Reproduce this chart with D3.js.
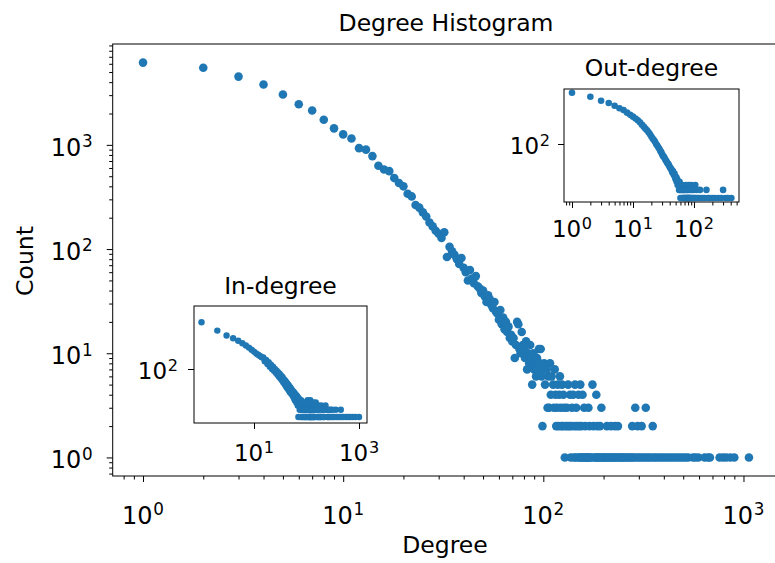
<!DOCTYPE html>
<html>
<head>
<meta charset="utf-8">
<script src="https://cdn.jsdelivr.net/npm/d3@7"></script>
<style>
  body { margin: 0; background: #fff; }
  text { font-family: "DejaVu Sans", sans-serif; fill: #000; }
</style>
</head>
<body>
<div id="chart"></div>
<script>
// ---- data ----
// main histogram: counts for degree 1..100, then sparse tail grouped by count
var mainHeadCount = [6160,5500,4520,3800,3040,2450,2140,1740,1440,1260,
  1150,930,900,780,630,580,560,480,430,400,
  340,320,265,250,225,205,180,165,150,140,
  128,145,84,105,95,88,80,72,82,66,
  60,50,63,52,47,55,44,42,38,40,
  35,31,36,33,29,27,31,25,24,21,
  26,19,22,17,20,16,18,14,15,13,
  14,9,12,20,19,11,10,16,12,11,
  9,13,7,10,8,12,9,5,10,7,
  8,6,9,7,11,8,11,6,2,7];
var mainTailCounts = [8, 7, 6, 5, 4, 3, 2, 1];
var mainTailDegrees = [
  [101,108],
  [104,114],
  [106,110,121],
  [102,112,118,124,133,144,153,176],
  [109,115,120,126,136,141,150,157,184],
  [105,107,113,117,122,127,131,139,146,160,168,195,288,325],
  [116,119,123,125,129,132,135,138,143,147,151,155,162,170,178,186,192,208,218,228,236,278,296,310,352],
  [128,137,142,145,149,152,154,156,158,161,163,165,167,169,172,174,180,182,185,188,190,194,197,200,203,206,210,213,216,220,224,227,231,235,240,244,248,252,256,262,267,272,277,283,290,298,305,313,320,329,337,346,356,365,375,386,397,408,420,432,445,458,472,486,500,515,530,560,575,595,640,665,680,760,790,820,860,900,1065]
];

// in-degree inset
var inHeadCount = [8900,3980,2500,1900,1500,1180,950,780,640,530,
  440,390,350,310,300,210,240,160,190,125,
  150,100,125,85,100,70,85,58,72,48,
  62,40,52,34,45,28,38,24,33,20,
  29,17,25,15,22,13,19,11,17,10,
  15,9,13,8,12,7,11,6,10,5,
  9,5,8,4,8,4,7,3,6,1,
  6,3,5,2,5,3,4,1,5,2,
  4,1,4,2,3,1,4,2,3,1,
  3,2,4,1,3,2,1,3,2,1];
var inTailCounts = [5, 4, 3, 2, 1];
var inTailDegrees = [
  [105,118],
  [102,110,121,135,150],
  [101,104,108,113,116,124,130,140,155,168,190,230],
  [103,106,109,112,117,120,126,133,145,148,152,160,175,200,205,220,240,265,285,310,360,450],
  [107,111,114,115,119,122,125,128,131,137,139,143,158,165,172,180,185,195,210,215,250,260,275,295,320,340,380,420,460,500,560,620,680,750,850,1000]
];

// out-degree inset
var outHeadCount = [7900,5600,4000,3300,2600,2100,1800,1450,1200,1030,
  880,760,640,520,440,370,320,270,230,190,
  160,140,120,100,88,76,66,56,50,42,
  36,34,30,26,24,21,19,18,16,14,
  13,12,11,9,10,8,7,8,6,5,
  6,4,5,3,4,3,2,4,2,1,
  3,2,1,2,3,1,2,1,2,1];
var outTailCounts = [3, 2, 1];
var outTailDegrees = [
  [74,82,90,105],
  [72,76,79,85,93,98,110,125,160,300],
  [71,73,75,77,78,80,81,83,84,86,88,91,95,100,103,108,115,120,130,140,150,170,180,200,220,250,280,330,360,410]
];

var blue = "#1f77b4";

function buildPoints(head, tailCounts, tailDegrees) {
  var pts = head.map(function(c, i) { return {d: i + 1, c: c}; });
  tailCounts.forEach(function(c, k) {
    tailDegrees[k].forEach(function(d) { pts.push({d: d, c: c}); });
  });
  return pts;
}

function minorTicks(dom) {
  var out = [];
  for (var e = -2; e <= 5; e++) {
    for (var m = 2; m <= 9; m++) {
      var v = m * Math.pow(10, e);
      if (v > dom[0] && v < dom[1]) out.push(v);
    }
  }
  return out;
}

var svg = d3.select("#chart").append("svg")
  .attr("width", 775)
  .attr("height", 563);

function supLabel(sel, v, fs) {
  var e = Math.round(Math.log10(v));
  sel.append("tspan").text("10");
  sel.append("tspan")
    .attr("font-size", fs * 0.7)
    .attr("dy", -fs * 0.36)
    .attr("dx", fs * 0.03)
    .text(e);
}

function panel(o) {
  var g = svg.append("g");
  var x = d3.scaleLog().domain(o.xDom).range([o.l, o.r]);
  var y = d3.scaleLog().domain(o.yDom).range([o.b, o.t]);

  g.append("rect")
    .attr("x", o.l).attr("y", o.t)
    .attr("width", o.r - o.l).attr("height", o.b - o.t)
    .attr("fill", "#fff");

  // tick marks
  g.append("g").attr("transform", "translate(0," + o.b + ")")
    .call(d3.axisBottom(x).tickValues(o.xMajor).tickSize(6).tickSizeOuter(0).tickFormat(""));
  if (o.xMinor) {
    g.append("g").attr("transform", "translate(0," + o.b + ")")
      .call(d3.axisBottom(x).tickValues(minorTicks(o.xDom)).tickSize(3.5).tickSizeOuter(0).tickFormat(""));
  }
  g.append("g").attr("transform", "translate(" + o.l + ",0)")
    .call(d3.axisLeft(y).tickValues(o.yMajor).tickSize(6).tickSizeOuter(0).tickFormat(""));
  if (o.yMinor) {
    g.append("g").attr("transform", "translate(" + o.l + ",0)")
      .call(d3.axisLeft(y).tickValues(minorTicks(o.yDom)).tickSize(3.5).tickSizeOuter(0).tickFormat(""));
  }
  g.selectAll(".domain").remove();
  g.selectAll(".tick line").attr("stroke", "#000").attr("stroke-width", 1);

  // tick labels
  o.xMajor.forEach(function(v) {
    g.append("text")
      .attr("x", x(v)).attr("y", o.b + o.xLabelDy)
      .attr("text-anchor", "middle")
      .attr("font-size", o.fs)
      .call(supLabel, v, o.fs);
  });
  o.yMajor.forEach(function(v) {
    g.append("text")
      .attr("x", o.l - o.yLabelDx).attr("y", y(v) + o.yLabelDy)
      .attr("text-anchor", "end")
      .attr("font-size", o.fs)
      .call(supLabel, v, o.fs);
  });

  // points
  g.selectAll("circle.pt")
    .data(o.points)
    .enter()
    .append("circle")
    .attr("class", "pt")
    .attr("cx", function(d) { return x(d.d); })
    .attr("cy", function(d) { return y(d.c); })
    .attr("r", o.radius)
    .attr("fill", blue);

  // frame
  g.append("rect")
    .attr("x", o.l).attr("y", o.t)
    .attr("width", o.r - o.l).attr("height", o.b - o.t)
    .attr("fill", "none")
    .attr("stroke", "#000")
    .attr("stroke-width", 1);

  if (o.title) {
    g.append("text")
      .attr("x", o.titleX).attr("y", o.titleY)
      .attr("text-anchor", "middle")
      .attr("font-size", 23.5)
      .text(o.title);
  }
  return g;
}

// main plot
panel({
  l: 112.7, r: 779.5, t: 44, b: 476,
  xDom: [Math.pow(10, -0.1515), Math.pow(10, 3.18)],
  yDom: [Math.pow(10, -0.178), Math.pow(10, 3.968)],
  xMajor: [1, 10, 100, 1000], yMajor: [1, 10, 100, 1000],
  xMinor: true, yMinor: true,
  fs: 24, xLabelDy: 48, yLabelDx: 20, yLabelDy: 11,
  radius: 4.3,
  points: buildPoints(mainHeadCount, mainTailCounts, mainTailDegrees),
  title: "Degree Histogram", titleX: 446, titleY: 31
});

svg.append("text")
  .attr("x", 445).attr("y", 553)
  .attr("text-anchor", "middle")
  .attr("font-size", 23.5)
  .text("Degree");

svg.append("text")
  .attr("transform", "translate(33,261) rotate(-90)")
  .attr("text-anchor", "middle")
  .attr("font-size", 23.5)
  .text("Count");

// in-degree inset
panel({
  l: 194, r: 367, t: 306, b: 423,
  xDom: [Math.pow(10, -0.143), Math.pow(10, 3.152)],
  yDom: [Math.pow(10, -0.25), Math.pow(10, 4.625)],
  xMajor: [10, 1000], yMajor: [100],
  xMinor: false, yMinor: false,
  fs: 23, xLabelDy: 38, yLabelDx: 16, yLabelDy: 10,
  radius: 3.2,
  points: buildPoints(inHeadCount, inTailCounts, inTailDegrees),
  title: "In-degree", titleX: 280.5, titleY: 294
});

// out-degree inset
panel({
  l: 564, r: 739, t: 89, b: 202,
  xDom: [Math.pow(10, -0.131), Math.pow(10, 2.738)],
  yDom: [Math.pow(10, -0.148), Math.pow(10, 4.037)],
  xMajor: [1, 10, 100], yMajor: [100],
  xMinor: true, yMinor: false,
  fs: 23, xLabelDy: 35, yLabelDx: 14, yLabelDy: 10,
  radius: 3.3,
  points: buildPoints(outHeadCount, outTailCounts, outTailDegrees),
  title: "Out-degree", titleX: 651.5, titleY: 76
});
</script>
</body>
</html>
